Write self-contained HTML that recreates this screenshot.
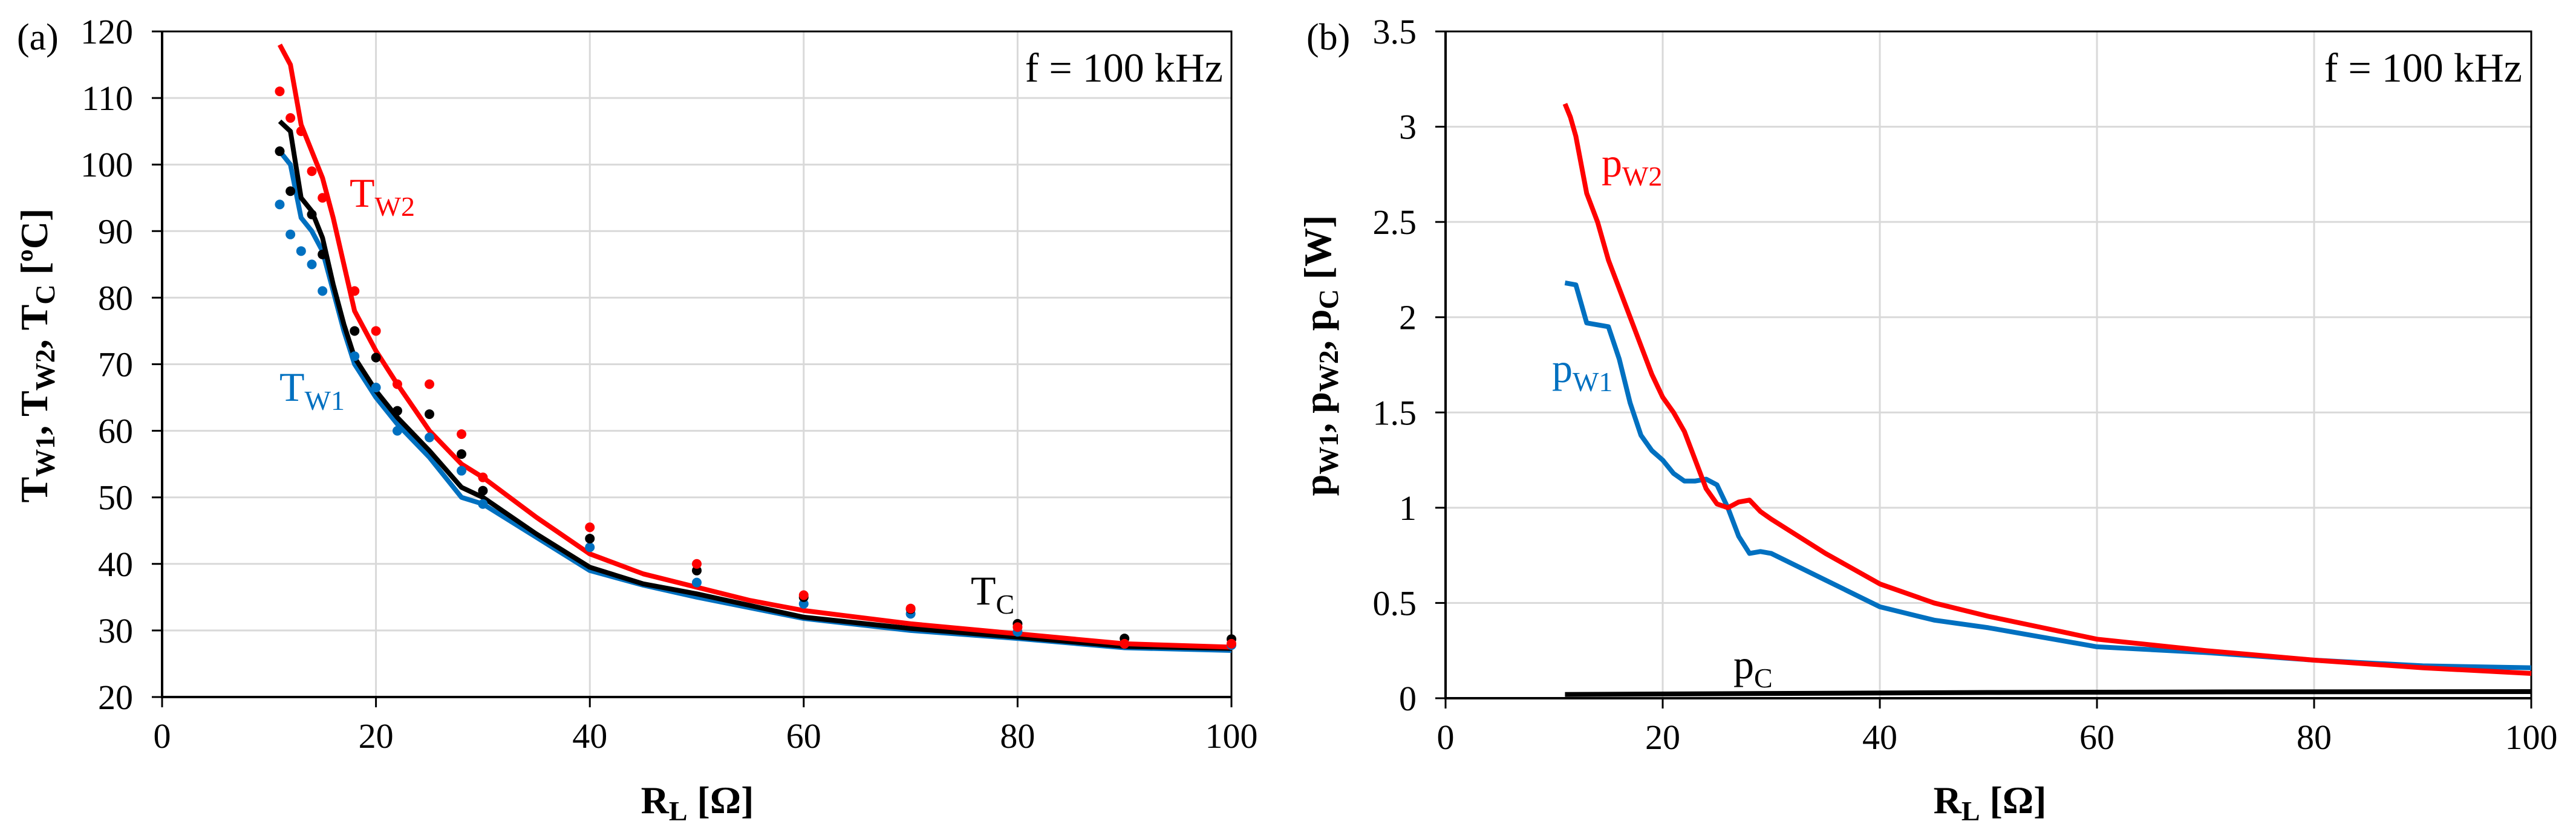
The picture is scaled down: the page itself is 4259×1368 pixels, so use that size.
<!DOCTYPE html>
<html><head><meta charset="utf-8"><style>
body{margin:0;background:#fff}
svg{display:block;font-family:"Liberation Serif",serif}
</style></head><body>
<svg id="chart" width="4259" height="1368" viewBox="0 0 4259 1368" xmlns="http://www.w3.org/2000/svg"></svg>
<script>
// ---- Panel (a) data ----
const aXTicks=[0,20,40,60,80,100];
const aYTicks=[20,30,40,50,60,70,80,90,100,110,120];
const aTW2LineX=[11,12,13,14,15,16,17,18,20,22,25,28,30,35,40,45,50,55,60,70,80,90,100];
const aTW2LineY=[118,115,106,102,98,92,85,78,72,67,60,55,53,47,41.5,38.5,36.5,34.5,33,31,29.5,28,27.5];
const aTCLineX=[11,12,12.5,13,14,15,16,17,18,20,22,25,28,30,35,40,45,50,60,70,80,90,100];
const aTCLineY=[106.5,105,100,95,93,89,82,76,71,66,62,57,51.5,50,44.5,39.5,37,35.5,32,30.3,29,27.6,27.3];
const aTW1LineX=[11,12,13,14,15,16,17,18,20,22,25,28,30,35,40,45,50,60,70,80,90,100];
const aTW1LineY=[102,100,92,90,87,81,75,70,65,61,56,50,49,44,39,36.8,35,31.8,30,28.8,27.4,27];
const aTW2PtX=[11,12,13,14,15,18,20,22,25,28,30,40,50,60,70,80,90,100];
const aTW2PtY=[111,107,105,99,95,81,75,67,67,59.5,53,45.5,40,35.3,33.3,30.5,28,28];
const aTCPtX=[11,12,14,15,18,20,22,25,28,30,40,50,60,70,80,90,100];
const aTCPtY=[102,96,92.5,86.5,75,71,63,62.5,56.5,51,43.8,39,35,33.2,31,28.8,28.7];
const aTW1PtX=[11,12,13,14,15,18,20,22,25,28,30,40,50,60,70,80,90,100];
const aTW1PtY=[94,89.5,87,85,81,71.2,66.5,60,59,54,49,42.5,37.2,34,32.5,29.8,28,27.8];
// ---- Panel (b) data ----
const bXTicks=[0,20,40,60,80,100];
const bYTicks=[0,0.5,1,1.5,2,2.5,3,3.5];
const bYTickLabels=["0","0.5","1","1.5","2","2.5","3","3.5"];
const bPW2X=[11,11.5,12,13,14,15,16,18,19,20,21,22,23,24,25,26,27,28,29,30,35,40,45,50,55,60,70,80,90,100];
const bPW2Y=[3.12,3.05,2.95,2.65,2.5,2.3,2.15,1.85,1.7,1.58,1.5,1.4,1.25,1.1,1.02,1.0,1.03,1.04,0.98,0.94,0.76,0.6,0.5,0.43,0.37,0.31,0.25,0.2,0.16,0.13];
const bPW1X=[11,12,13,14,15,16,17,18,19,20,21,22,23,24,25,26,27,28,29,30,35,40,45,50,55,60,70,80,90,100];
const bPW1Y=[2.18,2.17,1.97,1.96,1.95,1.78,1.55,1.38,1.3,1.25,1.18,1.14,1.14,1.15,1.12,1.0,0.85,0.76,0.77,0.76,0.62,0.48,0.41,0.37,0.32,0.27,0.24,0.2,0.17,0.16];
const bPCX=[11,30,50,70,100];
const bPCY=[0.02,0.025,0.03,0.033,0.035];

const NS="http://www.w3.org/2000/svg";
const svg=document.getElementById('chart');
function mk(tag,attrs,parent){const e=document.createElementNS(NS,tag);for(const k in attrs)e.setAttribute(k,attrs[k]);(parent||svg).appendChild(e);return e;}

function panel(cfg){
  const sx=v=>cfg.x0+(v-cfg.xmin)/(cfg.xmax-cfg.xmin)*(cfg.x1-cfg.x0);
  const sy=v=>cfg.y0-(v-cfg.ymin)/(cfg.ymax-cfg.ymin)*(cfg.y0-cfg.y1);
  const g=mk('g',{});
  
  
  cfg.xt.forEach(v=>{ if(v>cfg.xmin){const l=mk('line',{x1:sx(v),x2:sx(v),y1:cfg.y1,y2:cfg.y0,stroke:'#d9d9d9','stroke-width':3},g);
    }
    const t=mk('text',{x:sx(v),y:cfg.y0+84,'text-anchor':'middle','font-size':58},g);t.textContent=v;
    
    mk('line',{x1:sx(v),x2:sx(v),y1:cfg.y0,y2:cfg.y0+17,stroke:'#000','stroke-width':3},g);});
  cfg.yt.forEach((v,i)=>{ if(v>cfg.ymin){const l=mk('line',{x1:cfg.x0,x2:cfg.x1,y1:sy(v),y2:sy(v),stroke:'#d9d9d9','stroke-width':3},g);
    }
    const t=mk('text',{x:cfg.x0-48,y:sy(v)+20,'text-anchor':'end','font-size':58},g);t.textContent=cfg.ytl?cfg.ytl[i]:v;
    
    mk('line',{x1:cfg.x0-17,x2:cfg.x0,y1:sy(v),y2:sy(v),stroke:'#000','stroke-width':3},g);});
  const ax=mk('path',{d:`M${cfg.x0},${cfg.y1}V${cfg.y0}H${cfg.x1}`,fill:'none',stroke:'#000','stroke-width':4},g);
  
  mk('path',{d:`M${cfg.x0},${cfg.y1}H${cfg.x1}V${cfg.y0}`,fill:'none',stroke:'#000','stroke-width':3},g);
  cfg.lines.forEach(s=>{const p=mk('polyline',{points:s.x.map((v,i)=>sx(v)+','+sy(s.y[i])).join(' '),fill:'none',stroke:s.c,'stroke-width':s.w||8,'stroke-linejoin':'round'},g);
    });
  (cfg.pts||[]).forEach(s=>{s.x.forEach((v,i)=>{const c=mk('circle',{cx:sx(v),cy:sy(s.y[i]),r:8,fill:s.c},g);
    });});
}
panel({name:'panel-a',x0:268,x1:2036,y0:1153,y1:52,xmin:0,xmax:100,ymin:20,ymax:120,xt:aXTicks,yt:aYTicks,
  lines:[{x:aTW1LineX,y:aTW1LineY,c:'#0070c0',name:'tw1-line'},{x:aTCLineX,y:aTCLineY,c:'#000',name:'tc-line'},{x:aTW2LineX,y:aTW2LineY,c:'#ff0000',name:'tw2-line'}],
  pts:[{x:aTW1PtX,y:aTW1PtY,c:'#0070c0',name:'tw1-point'},{x:aTCPtX,y:aTCPtY,c:'#000',name:'tc-point'},{x:aTW2PtX,y:aTW2PtY,c:'#ff0000',name:'tw2-point'}]});
panel({name:'panel-b',x0:2390,x1:4185,y0:1155,y1:52,xmin:0,xmax:100,ymin:0,ymax:3.5,xt:bXTicks,yt:bYTicks,ytl:bYTickLabels,
  lines:[{x:bPCX,y:bPCY,c:'#000',name:'pc-line'},{x:bPW1X,y:bPW1Y,c:'#0070c0',name:'pw1-line'},{x:bPW2X,y:bPW2Y,c:'#ff0000',name:'pw2-line'}]});
</script>
<svg style="position:absolute;left:0;top:0" width="4259" height="1368" xmlns="http://www.w3.org/2000/svg" font-family="Liberation Serif, serif">
<text x="28" y="82" font-size="62">(a)</text>
<text x="2160" y="82" font-size="62">(b)</text>
<text x="2022" y="135" font-size="68" text-anchor="end">f = 100 kHz</text>
<text x="4170" y="135" font-size="68" text-anchor="end">f = 100 kHz</text>
<text x="578" y="342" font-size="68" fill="#ff0000">T<tspan font-size="46" dy="15">W2</tspan></text>
<text x="462" y="663" font-size="68" fill="#0070c0">T<tspan font-size="46" dy="15">W1</tspan></text>
<text x="1605" y="1000" font-size="68">T<tspan font-size="46" dy="15">C</tspan></text>
<text x="2648" y="292" font-size="68" fill="#ff0000">p<tspan font-size="46" dy="15">W2</tspan></text>
<text x="2566" y="632" font-size="68" fill="#0070c0">p<tspan font-size="46" dy="15">W1</tspan></text>
<text x="2866" y="1122" font-size="68">p<tspan font-size="46" dy="15">C</tspan></text>
<text x="1153" y="1345" font-size="64" font-weight="bold" text-anchor="middle">R<tspan font-size="46" dy="12">L</tspan><tspan dy="-12"> [Ω]</tspan></text>
<text x="3290" y="1345" font-size="64" font-weight="bold" text-anchor="middle">R<tspan font-size="46" dy="12">L</tspan><tspan dy="-12"> [Ω]</tspan></text>
<text transform="translate(78,588) rotate(-90)" font-size="64" font-weight="bold" text-anchor="middle">T<tspan font-size="46" dy="12">W1</tspan><tspan dy="-12">, T</tspan><tspan font-size="46" dy="12">W2</tspan><tspan dy="-12">, T</tspan><tspan font-size="46" dy="12">C</tspan><tspan dy="-12"> [ºC]</tspan></text>
<text transform="translate(2200,588) rotate(-90)" font-size="64" font-weight="bold" text-anchor="middle">p<tspan font-size="46" dy="12">W1</tspan><tspan dy="-12">, p</tspan><tspan font-size="46" dy="12">W2</tspan><tspan dy="-12">, p</tspan><tspan font-size="46" dy="12">C</tspan><tspan dy="-12"> [W]</tspan></text>
</svg>
</body></html>
